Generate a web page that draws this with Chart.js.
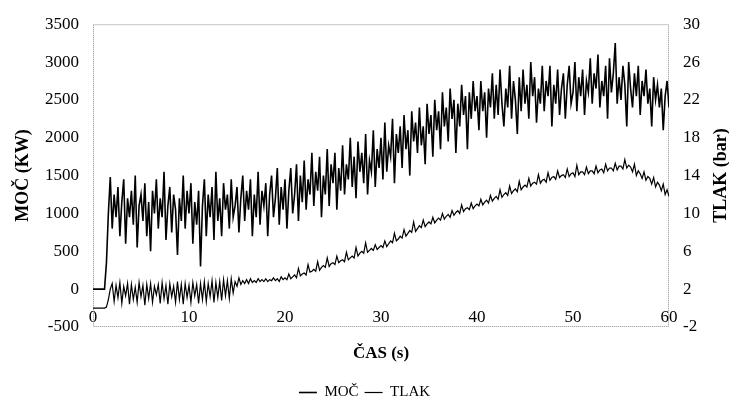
<!DOCTYPE html>
<html>
<head>
<meta charset="utf-8">
<script src="https://cdn.jsdelivr.net/npm/chart.js@4"></script>
<style>
  body { margin: 0; background: #fff; }
  canvas { display: block; }
</style>
</head>
<body>
<canvas id="chart" width="729" height="404"></canvas>
<script>
// samples every 0.2 s, 0 .. 60 s (one row = one second)
const sampleStep = 0.2;

// MOČ (KW)
const mocKW = [
  0, 0, 0, 0, 0,
  0, 0, 350, 1000, 1480,
  800, 1250, 950, 1350, 700,
  1150, 1450, 600, 1200, 950,
  1300, 850, 1500, 550, 1100,
  1250, 900, 1400, 700, 1150,
  500, 1300, 1000, 1450, 800,
  1200, 950, 1550, 650, 1100,
  1350, 750, 1250, 1050, 450,
  1200, 900, 1500, 800, 1300,
  1000, 1400, 600, 1150, 850,
  1300, 300, 1100, 1450, 700,
  1250, 950, 1350, 650, 1550,
  900, 1200, 700, 1400, 1050,
  1250, 800, 1450, 950, 1100,
  1350, 750, 1200, 1500, 900,
  1300, 1050, 1450, 700, 1250,
  950, 1550, 850, 1300, 1100,
  1400, 700, 1250, 1500, 950,
  1200, 1600, 850, 1350, 1050,
  1450, 800, 1300, 1600, 1000,
  1250, 1650, 900, 1500, 1150,
  1700, 1050, 1450, 1250, 1800,
  1100, 1550, 1300, 1750, 950,
  1500, 1250, 1850, 1100, 1650,
  1400, 1800, 1050, 1600, 1300,
  1900, 1250, 1650, 1450, 2000,
  1350, 1750, 1200, 1950, 1550,
  1800, 1400, 2050, 1250, 1700,
  1550, 2100, 1350, 1850, 1600,
  2000, 1450, 2200, 1550, 1900,
  1750, 2250, 1400, 2050, 1800,
  2150, 1600, 2300, 1850, 2100,
  1500, 2350, 1950, 2200, 1800,
  2400, 1900, 2150, 1650, 2450,
  2050, 2300, 1750, 2500, 2100,
  2350, 1850, 2600, 2150, 2400,
  1950, 2650, 2250, 2500, 1800,
  2450, 2150, 2700, 2300, 2550,
  1850, 2600, 2250, 2750, 2350,
  2550, 2100, 2750, 2350, 2600,
  2000, 2650, 2400, 2850, 2250,
  2700, 2300, 2900, 2450, 2150,
  2650, 2400, 2950, 2250, 2750,
  2500, 2050, 2800, 2350, 2900,
  2450, 2700, 2250, 3000, 2550,
  2800, 2200, 2650, 2450, 2950,
  2350, 2750, 2550, 2950, 2150,
  2700, 2450, 2900, 2300, 2650,
  2850, 2250, 2700, 2950, 2450,
  2600, 3000, 2350, 2800, 2550,
  2900, 2300, 2750, 2600, 3050,
  2450, 2850, 2650, 3100, 2400,
  2750, 2550, 2950, 2250, 3050,
  2600, 2850, 3250, 2450, 2800,
  2500, 2950, 2700, 2150, 3000,
  2650, 2400, 2850, 2550, 2950,
  2300, 2750, 2550, 2900, 2450,
  2650, 2150, 2800, 2500, 2700,
  2400, 2650, 2100, 2550, 2750,
  2400
];

// TLAK (bar)
const tlakBar = [
  0, 0, 0, 0, 0,
  0, 0, 0.1, 0.9, 2.0,
  2.6, 0.7, 2.4, 1.1, 2.7,
  0.5, 2.3, 1.3, 2.6, 0.4,
  2.5, 0.9, 2.2, 0.6, 2.7,
  1.2, 2.4, 0.3, 2.5, 1.0,
  2.6, 0.6, 2.3, 1.4, 2.5,
  0.5, 2.7, 1.0, 2.4, 0.4,
  2.6, 1.2, 2.3, 0.6, 2.8,
  0.9, 2.5, 0.4, 2.6, 1.1,
  2.4, 0.6, 2.7, 1.3, 2.5,
  0.5, 2.6, 0.9, 2.8, 0.7,
  2.6, 1.2, 2.9, 0.6, 2.7,
  1.1, 2.8, 0.8, 3.0, 1.3,
  2.9, 1.0, 3.1, 1.6, 2.8,
  2.3, 3.2, 2.5, 2.9, 2.6,
  3.0, 2.6, 3.1, 2.7, 2.9,
  2.7, 3.1, 2.8, 3.0, 2.8,
  3.1, 2.8, 3.0, 2.9, 3.2,
  2.9, 3.1, 2.8, 3.3, 3.0,
  3.2, 3.0, 3.6, 3.1, 3.3,
  3.5, 3.2, 4.2, 3.4, 3.6,
  3.7, 3.5, 4.6, 3.8, 3.9,
  4.1, 3.9, 4.9, 4.0, 4.3,
  4.5, 4.3, 5.3, 4.4, 4.7,
  4.8, 4.6, 5.5, 4.8, 5.0,
  5.1, 4.9, 5.9, 5.1, 5.3,
  5.5, 5.3, 6.4, 5.5, 5.8,
  6.0, 5.8, 6.9, 5.9, 6.1,
  6.3, 6.1, 6.7, 6.2, 6.4,
  6.6, 6.4, 7.1, 6.5, 6.8,
  7.1, 6.9, 7.9, 7.1, 7.3,
  7.6, 7.4, 8.3, 7.6, 7.9,
  8.2, 8.0, 9.1, 8.1, 8.4,
  8.7, 8.5, 9.3, 8.6, 8.9,
  9.1, 8.9, 9.6, 9.0, 9.3,
  9.5, 9.3, 10.0, 9.4, 9.7,
  9.9, 9.6, 10.3, 9.8, 10.1,
  10.3, 10.0, 10.9, 10.2, 10.5,
  10.6, 10.4, 11.1, 10.5, 10.8,
  11.0, 10.8, 11.5, 10.9, 11.2,
  11.4, 11.1, 11.9, 11.3, 11.6,
  11.8, 11.5, 12.5, 11.7, 12.0,
  12.2, 11.9, 12.9, 12.1, 12.4,
  12.6, 12.3, 13.4, 12.5, 12.8,
  13.0, 12.8, 13.7, 12.9, 13.2,
  13.3, 13.1, 14.1, 13.2, 13.5,
  13.6, 13.3, 14.3, 13.5, 13.8,
  13.9, 13.6, 14.5, 13.8, 14.0,
  14.1, 13.8, 14.7, 13.9, 14.2,
  14.3, 13.9, 15.1, 14.1, 14.4,
  14.4, 14.1, 14.9, 14.2, 14.5,
  14.5, 14.2, 15.0, 14.3, 14.6,
  14.7, 14.3, 15.2, 14.5, 14.8,
  14.8, 14.5, 15.3, 14.6, 15.0,
  15.0, 14.7, 15.7, 14.8, 15.1,
  14.9, 14.4, 15.2, 14.0, 14.5,
  14.2, 13.7, 14.4, 13.5, 13.9,
  13.7, 13.1, 13.8, 12.8, 13.3,
  13.0, 12.4, 13.1, 12.0, 12.5,
  11.8
];

const timeS = mocKW.map((_, i) => i * sampleStep);

Chart.defaults.font.family = "'Liberation Serif', 'Times New Roman', serif";
Chart.defaults.color = '#000';

// dotted frame round the plot area, like the original
const frame = {
  id: 'frame',
  beforeDatasetsDraw(chart) {
    const {ctx, chartArea: a} = chart;
    ctx.save();
    ctx.strokeStyle = '#8c8c8c';
    ctx.lineWidth = 1;
    ctx.setLineDash([1, 1]);
    ctx.strokeRect(a.left + 0.5, a.top + 0.5, a.right - a.left - 1, a.bottom - a.top - 1);
    ctx.restore();
  }
};

// right axis title reads bottom-to-top
const rightTitle = {
  id: 'rightTitle',
  afterDraw(chart) {
    const {ctx, chartArea: a} = chart;
    ctx.save();
    ctx.translate(721, (a.top + a.bottom) / 2);
    ctx.rotate(-Math.PI / 2);
    ctx.font = "bold 18px 'Liberation Serif'";
    ctx.fillStyle = '#000';
    ctx.textAlign = 'center';
    ctx.textBaseline = 'middle';
    ctx.fillText('TLAK (bar)', 0, 0);
    ctx.restore();
  }
};

new Chart(document.getElementById('chart'), {
  type: 'line',
  data: {
    datasets: [
      {
        label: 'MOČ',
        data: mocKW.map((v, i) => ({x: timeS[i], y: v})),
        yAxisID: 'y',
        borderColor: '#000',
        backgroundColor: '#000',
        borderWidth: 1.6,
        pointRadius: 0,
        tension: 0
      },
      {
        label: 'TLAK',
        data: tlakBar.map((v, i) => ({x: timeS[i], y: v})),
        yAxisID: 'y2',
        borderColor: '#000',
        backgroundColor: '#000',
        borderWidth: 1.2,
        pointRadius: 0,
        tension: 0
      }
    ]
  },
  options: {
    responsive: false,
    animation: false,
    devicePixelRatio: 1,
    layout: {padding: {top: 18, bottom: 0, left: 0, right: 0}},
    scales: {
      x: {
        type: 'linear',
        min: 0,
        max: 60,
        grid: {display: false, drawTicks: false},
        border: {display: false},
        ticks: {stepSize: 10, mirror: true, padding: -1, font: {size: 17}, maxRotation: 0},
        title: {display: true, text: 'ČAS (s)', font: {size: 17, weight: 'bold'}, padding: {top: 0, bottom: 15}},
        afterFit(scale) { scale.height = 52; }
      },
      y: {
        position: 'left',
        min: -500,
        max: 3500,
        grid: {display: false, drawTicks: false},
        border: {display: false},
        ticks: {stepSize: 500, padding: 14, font: {size: 17}, callback: v => String(v)},
        title: {display: true, text: 'MOČ (KW)', font: {size: 18, weight: 'bold'}, padding: {top: 13, bottom: 0}},
        afterFit(scale) { scale.width = 93; }
      },
      y2: {
        position: 'right',
        min: -2,
        max: 30,
        grid: {display: false, drawTicks: false},
        border: {display: false},
        ticks: {stepSize: 4, padding: 14, font: {size: 17}, callback: v => String(v)},
        afterFit(scale) { scale.width = 60; }
      }
    },
    plugins: {
      legend: {
        position: 'bottom',
        maxHeight: 25,
        labels: {
          usePointStyle: true,
          pointStyle: 'line',
          pointStyleWidth: 18,
          padding: 6,
          font: {size: 15},
          color: '#000'
        }
      },
      tooltip: {enabled: false}
    }
  },
  plugins: [frame, rightTitle]
});
</script>
</body>
</html>
